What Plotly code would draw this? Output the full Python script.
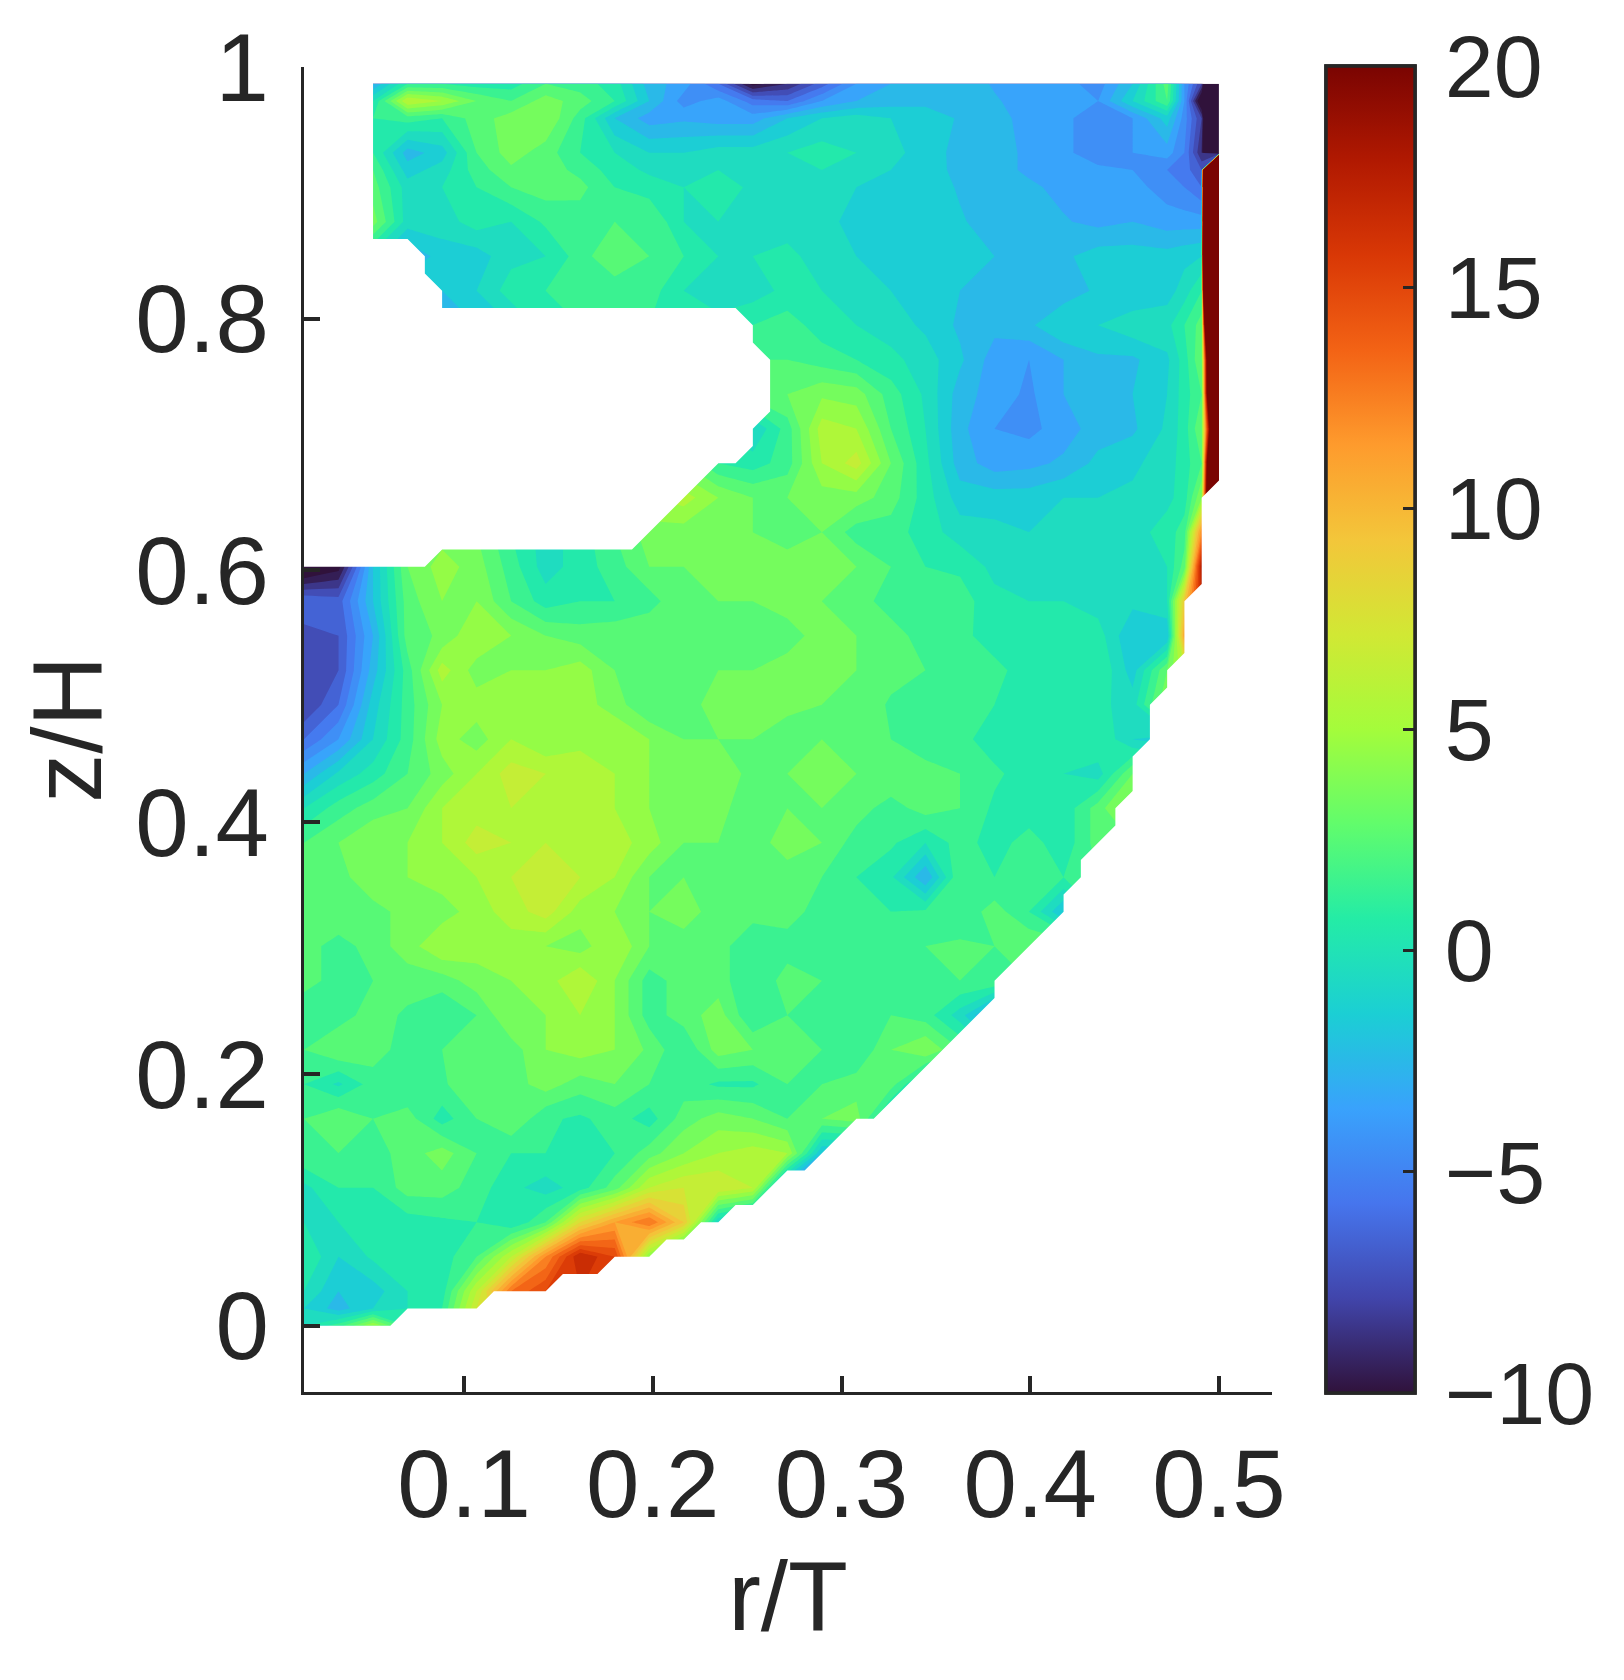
import plotly.graph_objects as go

N = None
INK = "#262626"
FONT = "Liberation Sans"

# measurement mesh: column and row numbers of the PIV grid
r_first, r_step = 0.0152, 0.009147
z_step = 0.013704
col_index = [0, 2, 4, 6, 8, 10, 12, 14, 16, 18, 20, 22, 24, 26, 28, 30, 32, 34, 36, 38, 40, 42, 44, 46, 48, 50, 51, 52, 53]
row_index = [72, 71, 70, 68, 67, 66, 64, 62, 60, 58, 56, 54, 52, 50, 48, 46, 44, 42, 40, 38, 36, 34, 32, 30, 28, 26, 24, 22, 20, 18, 16, 14, 12, 10, 8, 6, 4, 2, 1, 0]

row_72 = [N, -3, -3, 1, 1, .5, .5, 2, 1.5, .5, -2.5, -3.5, -6, -10.5, -9, -6.5, -4, -3, -2.5, -2.5, -3.1, -3.5, -3.6, -4.5, -2, 2.5, -4, -8, -30]
row_71 = [N, 0, 0, 6, 5, 3, 2, 3.5, 2.5, 1, -2, -4.5, -3.5, -5.5, -6, -4, -3, -2.5, -2.5, -2.4, -2.9, -3.4, -3.6, -4, -1, 2, -4, -12, -30]
row_70 = [N, 1, 1, 1.5, 1, 2.5, 3.5, 4, 1.5, -2, -3.5, -3.2, -3.5, -3.5, -2, -1, -.5, -1, -1, -2.2, -2.7, -3.3, -3.6, -5, -4, -1.5, -4.5, -8, -30]
row_68 = [N, 1, 1, -2.5, -1.5, 2, 3.5, 2.5, 1, 0, -1, -1, -.5, -.5, 0, .5, 0, -.5, -1.7, -2.2, -2.6, -3.2, -3.8, -4.5, -4, -3.5, -5, -9, -30]
row_67 = [N, 2, 2, -1.5, -.5, 1.5, 2.8, 2.5, 1.7, .5, -.2, -.5, 0, -.5, -.2, 0, -.5, -1, -1.5, -2.3, -2.6, -3.2, -3.7, -3.8, -4, -5, -5.5, -7, 300]
row_66 = [N, 2.5, 2.5, -.5, 0, 1, 2, 2.5, 2.3, 1, .5, 0, .5, -.2, 0, -.3, -1, -1, -1.5, -2.1, -2.5, -2.8, -3.3, -3.5, -3.6, -4.5, -5, -6, 300]
row_64 = [N, 3.5, 3.5, -.5, -.5, .5, 0, 1.2, 1.5, 2, 2, 0, 0, -.5, -.5, -.8, -1.2, -1.3, -1.5, -1.9, -2.4, -2.6, -2.9, -3.3, -3, -3.5, -3.5, -3.5, 300]
row_62 = [N, -.5, -.5, -3, -1.5, -1.5, -.3, 0, 1.5, 3, 2, 1, 0, 0, .3, -.5, -1, -1, -1.3, -1.6, -2, -2.5, -2.2, -1.5, -1.5, -1.6, -1.3, -1, 300]
row_60 = [N, N, N, -1, -2, -1, .5, 1, 1.2, 1.3, 1.5, 0, -.5, -.5, .3, 0, -.5, -1, -1.2, -2, -2.2, -2.5, -2.6, -1.8, -2, -1.5, -.5, 1, 200]
row_58 = [N, N, N, N, -3, -2, -1, .5, 1, 1.5, 1, .5, .3, 1, 1.5, .5, 0, -.5, -1.2, -2.2, -2.7, -2.2, -1, -1, -.3, -.3, 1, 2.5, 100]
row_56 = [N, N, N, N, N, N, N, N, N, N, N, N, 1.5, 2, 2, 1.5, 1, .3, -.5, -1.8, -3.5, -4, -3, -2.2, -2.2, -1.2, .5, 3, 60]
row_54 = [N, N, N, N, N, N, N, N, N, N, N, N, 2, 2.5, 3, 3.8, 3.5, 1.5, -.2, -2.5, -3.5, -4.2, -3, -2.5, -2, -1, .5, 2, 60]
row_52 = [N, N, N, N, N, N, N, N, N, N, N, N, 0, -1, 1.5, 5.5, 5, 2, 0, -2.7, -4, -4.3, -3.5, -2.5, -2.2, -.8, .5, 3, 40]
row_50 = [N, N, N, N, N, N, N, N, N, N, N, 3, 1, .5, 1.5, 5, 6.5, 3, .3, -2.5, -3.5, -3.3, -2.8, -1.7, -1.2, -.5, .5, 2, 60]
row_48 = [N, N, N, N, N, N, N, N, N, N, 5, 5.5, 4, 3, 3, 3.5, 3.5, 2.5, .5, -1.5, -1.5, -1.5, -1, -1, -.8, -.3, .5, 4, 60]
row_46 = [N, N, N, 3, 3.5, 3, 1, -.5, .5, 2, 3.5, 3.5, 3.5, 3, 2.5, 3, 1.5, 1.5, .5, -.5, -.7, -1, -.7, -.5, -.5, .5, 1.5, 12, 25]
row_44 = [-12, -10.5, -2, 3, 4.5, 3.5, 1.5, -.5, .5, 1.5, 3, 3, 3.5, 3.5, 3.5, 3.5, 3, 2, 1, .8, -.3, -.3, -1, -1, -.5, 0, 2.5, 18, N]
row_42 = [-6, -6.5, -2, 2.5, 4, 4, 2, .5, 1, 1, 1.5, 3, 3, 3, 3.5, 3, 2.5, 1.5, 2, 1.5, .3, 0, 0, -.5, -.7, 0, 9, 17, N]
row_40 = [-7.5, -7, -3, 2.5, 3.2, 5, 4, 3, 2.5, 2.7, 3, 3, 3, 3, 2.5, 3.5, 3, 2.5, 1.5, 1.3, .5, .5, .3, .5, -2, -2, 11, 25, N]
row_38 = [-7, -7, -2.5, 1.5, 5.5, 3.5, 4, 4, 4.5, 3, 3, 2, 3, 3, 3.5, 3.5, 3, 2.5, 2, 1, 1.3, .5, .5, 1, -1.5, 3, 6, 15, N]
row_36 = [-8, -6, -1.5, 1.5, 4, 4.5, 5, 5, 4.5, 3.5, 2, 2.5, 3.5, 3.5, 3.5, 3, 3, 1.8, 1.5, 1.5, 1, .3, .5, .3, -.5, 4, N, N, N]
row_34 = [-6, -4, -1, 1.5, 4.5, 3.5, 5, 4, 4.5, 5, 4, 3, 3, 3, 2, 3, 2.8, 2, 1.7, 1.3, .5, .3, .3, 1, -1, -1.5, N, N, N]
row_32 = [-3, -.8, .5, 2, 3.5, 5, 6.5, 6, 6, 5, 4, 4, 4, 2.5, 3, 3.5, 3, 3, 2.2, 2, 1.2, .5, 0, -.5, 3, 2, N, N, N]
row_30 = [0, 1.5, 2.5, 3, 5, 5.5, 6, 6, 6, 5, 4, 3.5, 3.5, 2, 3, 3, 2.5, 1.5, 2.5, 2, .8, .3, .3, 2.5, 5, N, N, N, N]
row_28 = [2, 3, 4, 4, 5, 6.5, 6, 6, 6, 5.5, 4.5, 3, 3, 2.5, 3.5, 3, 1.5, 1.2, 0, 1.5, .5, 1.5, .3, 2.5, 3, N, N, N, N]
row_26 = [3, 2.5, 4, 4, 4.5, 5, 6, 7, 6, 5, 3, 3, 3, 2, 2.5, 2, 1, .2, -3, 2, 1, 1.2, 1, 2, N, N, N, N, N]
row_24 = [2.5, 3, 2.5, 3.5, 3.5, 4.5, 5.5, 6.5, 4.5, 4, 3, 3.5, 2.5, 2.5, 2.5, 1.5, 1.2, 1, 1.2, 1.2, 2.5, 1, -2, 1, N, N, N, N, N]
row_22 = [2.5, 1.5, 2.5, 3.5, 5, 4.5, 4.5, 4, 3.5, 5, 3, 2.5, 2.5, 1, 1.5, 1.5, 2, 2, 2, 2.2, 2, 3, 3, N, N, N, N, N, N]
row_20 = [2.5, 1.5, 2, 2.5, 2.5, 3.5, 4, 4.5, 6, 4, 1.5, 2.5, 2.5, 1, 2.5, 2, 1.5, 1.5, 1.5, 2, 2, 2, N, N, N, N, N, N, N]
row_18 = [1, 1.5, 2.5, 1.8, 1, 2, 4, 4, 5, 4, 1.5, 2.5, 3.5, 1, 2, 2, 1.5, 2, 1.5, -.5, -4, N, N, N, N, N, N, N, N]
row_16 = [2, 3, 2.5, 1.5, 2, 3, 2.5, 4, 4.5, 4, 2.8, 1, 3.5, 3, 3, 2, 1, 3, 4, 2, N, N, N, N, N, N, N, N, N]
row_14 = [1, -.2, 1.5, 1, 1.8, 3, 2.5, 3.5, 2.5, 3, 2, 1.5, .8, .8, 2, 2, 2.5, 2.5, -1, N, N, N, N, N, N, N, N, N, N]
row_12 = [2, 3, 2, 2.5, .5, 2, 3, 1.2, .8, 1.5, .5, 2.5, 3.5, 3, 2, 3, 3.5, -1, N, N, N, N, N, N, N, N, N, N, N]
row_10 = [2, 2, 1.5, 2.5, 3.5, 2, 1, 1, 0, 1, 2.5, 4, 5, 5.5, 5, -2, -2, N, N, N, N, N, N, N, N, N, N, N, N]
row_08 = [-.3, 1, 1, 2.5, 2.5, 1.5, .3, -.5, .5, 2.5, 6, 7, 7, 6, -4, -4, N, N, N, N, N, N, N, N, N, N, N, N, N]
row_06 = [0, 0, .5, .5, .8, 1, 0, 2, 8, 11, 13, 9, -1, -3, -4, N, N, N, N, N, N, N, N, N, N, N, N, N, N]
row_04 = [1, -1, .2, .5, .5, 2, 6, 12, 17, 15, 4, -1, -1, N, N, N, N, N, N, N, N, N, N, N, N, N, N, N, N]
row_02 = [0, -2, -1.5, 0, .5, 6, 13, 15, 16, 14, N, N, N, N, N, N, N, N, N, N, N, N, N, N, N, N, N, N, N]
row_01 = [-1, -2.5, -1, 0, 1, 7, 10, N, N, N, N, N, N, N, N, N, N, N, N, N, N, N, N, N, N, N, N, N, N]
row_00 = [0, 1.5, 5, 1, N, N, N, N, N, N, N, N, N, N, N, N, N, N, N, N, N, N, N, N, N, N, N, N, N]

velocity_rows = [row_72, row_71, row_70, row_68, row_67, row_66, row_64, row_62, row_60, row_58, row_56, row_54, row_52,
                 row_50, row_48, row_46, row_44, row_42, row_40, row_38, row_36, row_34, row_32, row_30, row_28, row_26,
                 row_24, row_22, row_20, row_18, row_16, row_14, row_12, row_10, row_08, row_06, row_04, row_02, row_01, row_00]

# cells without measurement (impeller hole / outside the vessel), as mesh column and row numbers
hole_cols = [0, 7, 8, 19, 24, 25, 26, 26, 27, 27, 26, 26, 25, 8, 8, 7, 7, 6, 4, 4, 0, 0]
hole_rows = [44, 44, 45, 45, 50, 50, 51, 52, 53, 56, 57, 58, 59, 59, 60, 61, 62, 63, 63, 74, 74, 44]
wall_cols = [53, 52, 52, 51, 51, 50, 50, 49, 49, 48, 48, 47, 47, 45, 45, 44, 44, 40, 40, 33, 32, 29, 28, 26, 25, 24, 23, 22, 21, 20, 18, 17, 15, 14, 11, 10, 6, 5, 0, 0, 56, 56, 53]
wall_rows = [49, 48, 43, 42, 39, 38, 37, 36, 34, 33, 31, 30, 29, 27, 26, 25, 24, 20, 19, 12, 12, 9, 9, 7, 7, 6, 6, 5, 5, 4, 4, 3, 3, 2, 2, 1, 1, 0, 0, -6, -6, 49, 49]

x_ticks = [0.1, 0.2, 0.3, 0.4, 0.5]
y_ticks = [0, 0.2, 0.4, 0.6, 0.8, 1]
y_labels = ["0", "0.2", "0.4", "0.6", "0.8", "1"]
bar_ticks = [-10, -5, 0, 5, 10, 15, 20]
bar_labels = ["\u221210", "\u22125", "0", "5", "10", "15", "20"]

r_values = [r_first + r_step * c for c in col_index]
z_values = [z_step * j for j in row_index]

fig = go.Figure()
fig.add_trace(go.Contour(
    x=r_values, y=z_values, z=velocity_rows,
    colorscale="Turbo", zmin=-10, zmax=20, showscale=False, connectgaps=False,
    contours=dict(coloring="fill", start=-10, end=20, size=1, showlines=False),
    line=dict(width=0, smoothing=0),
))

mask_x = [r_first + r_step * c for c in hole_cols] + [None] + [r_first + r_step * c for c in wall_cols]
mask_y = [z_step * j for j in hole_rows] + [None] + [z_step * j for j in wall_rows]
fig.add_trace(go.Scatter(x=mask_x, y=mask_y, mode="lines", fill="toself", fillcolor="white",
                         line=dict(width=0, color="white"), hoverinfo="skip", showlegend=False))

bar_common = dict(x=1326 / 1624, xanchor="left", xpad=0, y=1 - 66 / 1680, yanchor="top", ypad=0,
                  len=1327 / 1680, lenmode="fraction", thickness=89, thicknessmode="pixels",
                  outlinecolor=INK, outlinewidth=3.5, borderwidth=0,
                  tickmode="array", tickvals=bar_ticks, ticktext=bar_labels)
# labels set off from the bar by clear outside ticks; the visible ticks are the inside ones
fig.add_trace(go.Scatter(
    x=[None], y=[None], mode="markers", showlegend=False,
    marker=dict(color=[0], colorscale="Turbo", cmin=-10, cmax=20, showscale=True,
                colorbar=dict(**bar_common, ticks="outside", ticklen=11, tickwidth=1, tickcolor="rgba(0,0,0,0)",
                              tickfont=dict(family=FONT, size=88, color=INK))),
))
fig.add_trace(go.Scatter(
    x=[None], y=[None], mode="markers", showlegend=False,
    marker=dict(color=[0], colorscale="Turbo", cmin=-10, cmax=20, showscale=True,
                colorbar=dict(**bar_common, ticks="inside", ticklen=13, tickwidth=2.5, tickcolor=INK,
                              showticklabels=False)),
))

fig.update_layout(
    width=1624, height=1680, margin=dict(l=0, r=0, t=0, b=0), autosize=False,
    paper_bgcolor="white", plot_bgcolor="white", showlegend=False,
    xaxis=dict(domain=[304 / 1624, 1272 / 1624], range=[0.0152, 0.5281], tickmode="array", tickvals=x_ticks,
               ticktext=["0.1", "0.2", "0.3", "0.4", "0.5"], ticks="inside", ticklen=16, tickwidth=3.5, tickcolor=INK,
               showline=True, linecolor=INK, linewidth=3, showgrid=False, zeroline=False, automargin=False,
               tickfont=dict(family=FONT, size=96, color=INK), ticklabelstandoff=7,
               title=dict(text="r/T", font=dict(family=FONT, size=98, color=INK), standoff=26)),
    yaxis=dict(domain=[1 - 1391.5 / 1680, 1 - 67 / 1680], range=[-0.0523, 1.0], tickmode="array", tickvals=y_ticks,
               ticktext=y_labels, ticks="inside", ticklen=16, tickwidth=3.5, tickcolor=INK,
               showline=True, linecolor=INK, linewidth=3, showgrid=False, zeroline=False, automargin=False,
               tickfont=dict(family=FONT, size=96, color=INK), ticklabelstandoff=13,
               title=dict(text="z/H", font=dict(family=FONT, size=98, color=INK), standoff=2)),
)

fig.write_html("out.html", config=dict(displayModeBar=False), post_script="document.body.style.margin='0';")
